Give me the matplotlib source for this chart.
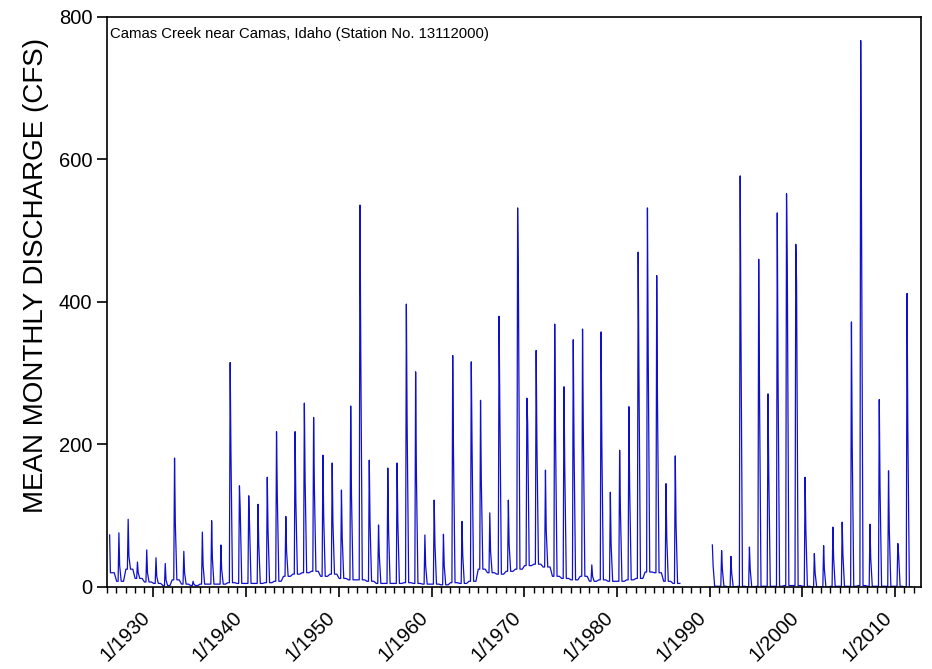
import matplotlib
matplotlib.use('Agg')
import matplotlib.pyplot as plt
import matplotlib.dates as mdates
import numpy as np
import pandas as pd

plt.rcParams['font.family'] = ['Liberation Sans', 'DejaVu Sans']

# 年份（1987-1989 缺测）
years = list(range(1925, 1987)) + list(range(1990, 2012))

# 每年的峰值月流量 (cfs)
peak_cfs = [
    73, 76, 95, 35, 52, 41, 33, 181, 50, 8,
    77, 93, 59, 315, 142, 128, 116, 154, 218, 99,
    218, 258, 238, 185, 174, 136, 254, 536, 178, 87,
    167, 174, 397, 302, 73, 122, 74, 325, 92, 316,
    262, 104, 380, 122, 532, 265, 332, 164, 369, 281,
    347, 362, 31, 358, 133, 192, 253, 470, 532, 437,
    145, 184,
    59, 51, 43, 577, 56, 460, 271, 525, 552, 481,
    154, 47, 58, 84, 91, 372, 767, 88, 263, 163,
    61, 412,
]

# 峰值后一个月的流量
after_cfs = [
    20, 30, 43, 20, 20, 15, 10, 90, 20, 4,
    30, 40, 25, 190, 110, 90, 60, 80, 130, 50,
    120, 150, 140, 100, 90, 70, 130, 330, 90, 45,
    80, 90, 230, 160, 30, 60, 30, 190, 45, 200,
    150, 50, 250, 60, 430, 230, 200, 80, 220, 170,
    200, 220, 15, 200, 60, 110, 140, 300, 330, 260,
    70, 90,
    30, 25, 20, 360, 25, 280, 160, 300, 450, 428,
    80, 20, 25, 40, 45, 200, 534, 40, 140, 80,
    47, 220,
]

# 每年的基流（枯水期）
low_cfs = [
    20, 8, 25, 12, 7, 5, 2, 10, 4, 2,
    4, 4, 4, 6, 5, 5, 5, 6, 8, 15,
    18, 20, 22, 15, 18, 12, 10, 10, 8, 5,
    5, 5, 6, 5, 4, 4, 3, 6, 5, 8,
    25, 20, 18, 22, 25, 30, 32, 28, 15, 12,
    10, 15, 8, 10, 8, 8, 10, 12, 21, 20,
    8, 5,
    1, 1, 0, 1, 0, 1, 1, 1, 2, 2,
    1, 0, 0, 1, 1, 1, 2, 1, 1, 1,
    1, 0,
]

first_years = (1925, 1990)  # 记录从春季峰值开始

dates = []
values = []
for y, pk, af, lo in zip(years, peak_cfs, after_cfs, low_cfs):
    if y not in first_years:
        dates += [pd.Timestamp(y, 1, 15), pd.Timestamp(y, 3, 15)]
        values += [lo, lo]
    dates += [pd.Timestamp(y, 4, 15), pd.Timestamp(y, 5, 15),
              pd.Timestamp(y, 7, 15), pd.Timestamp(y, 10, 15)]
    values += [pk, af, lo, lo]
    if y == 1986:
        dates.append(pd.Timestamp(1988, 1, 1))
        values.append(np.nan)

fig = plt.figure(figsize=(9.32, 6.69), dpi=100)
ax = fig.add_axes([0.1148, 0.1226, 0.8734, 0.852])

ax.plot(dates, values, color='#1010cc', linewidth=0.9)

ax.set_ylim(0, 800)
ax.set_yticks([0, 200, 400, 600, 800])
ax.set_xlim(pd.Timestamp(1925, 1, 1), pd.Timestamp(2012, 10, 15))
ax.xaxis.set_major_locator(mdates.YearLocator(10))
ax.xaxis.set_minor_locator(mdates.YearLocator(1))
ax.xaxis.set_major_formatter(mdates.DateFormatter('1/%Y'))

ax.tick_params(axis='both', which='major', direction='out', length=7,
               width=1.2, labelsize=14.5)
ax.tick_params(axis='x', which='minor', direction='out', length=4, width=1.0)
ax.tick_params(axis='x', which='major', pad=8)
for lab in ax.get_xticklabels():
    lab.set_rotation(45)
    lab.set_ha('right')

for s in ax.spines.values():
    s.set_linewidth(1.2)

ax.set_ylabel('MEAN MONTHLY DISCHARGE (CFS)', fontsize=20)
ax.yaxis.set_label_coords(-0.071, 0.547)

ax.text(0.004, 0.982, 'Camas Creek near Camas, Idaho (Station No. 13112000)',
        transform=ax.transAxes, fontsize=10.7, va='top', ha='left')

fig.savefig('out.png', dpi=100)
